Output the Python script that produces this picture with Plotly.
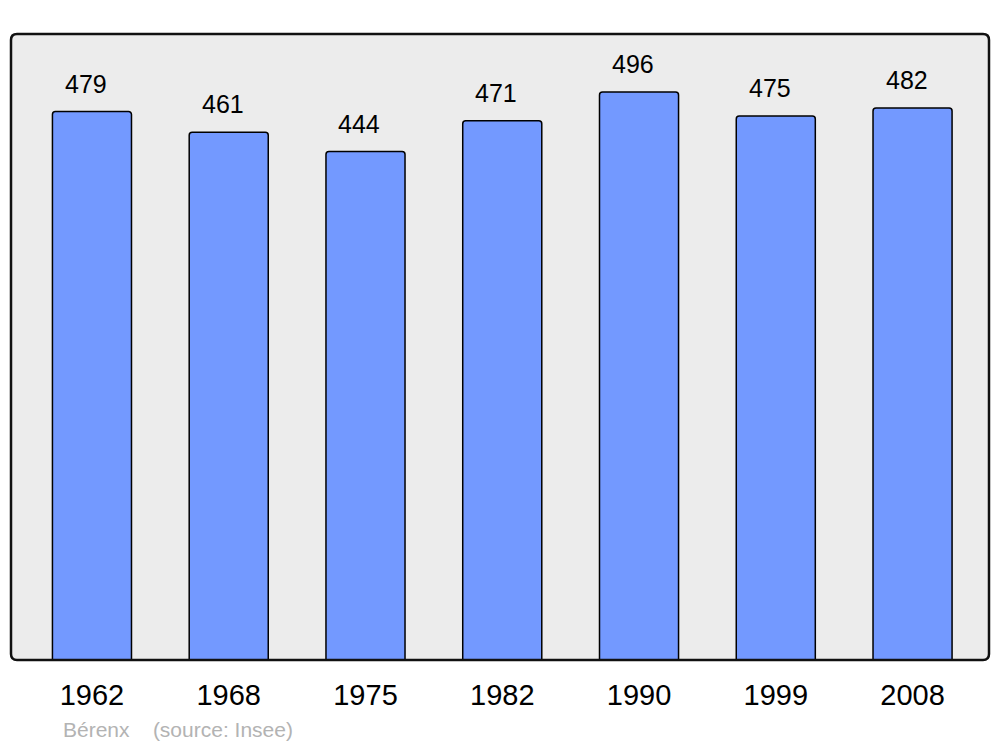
import plotly.graph_objects as go

years = ["1962", "1968", "1975", "1982", "1990", "1999", "2008"]
population = [479, 461, 444, 471, 496, 475, 482]
footer = "Bérenx    (source: Insee)"

xpos = list(range(len(years)))

fig = go.Figure()
fig.add_trace(go.Bar(
    x=xpos, y=population, width=0.578,
    marker=dict(color="#7399ff", line=dict(color="#000000", width=1.5), cornerradius=3),
    hoverinfo="skip",
))

for x, v in zip(xpos, population):
    fig.add_annotation(x=x, y=v, text=str(v), showarrow=False,
                       xshift=-6, yshift=28, yanchor="middle",
                       font=dict(family="Liberation Sans, Arial", size=25, color="#000"))

fig.add_annotation(xref="paper", yref="paper", x=0.0511, y=-0.1118,
                   xanchor="left", yanchor="middle", text=footer, showarrow=False,
                   font=dict(family="Liberation Sans, Arial", size=21, color="#b3b3b3"))

# rounded frame
r = 6
W, H = 978.0, 626.0
rx, ry = r / W, r / H
path = (f"M {rx},0 L {1-rx},0 Q 1,0 1,{ry} L 1,{1-ry} Q 1,1 {1-rx},1 "
        f"L {rx},1 Q 0,1 0,{1-ry} L 0,{ry} Q 0,0 {rx},0 Z")
fig.add_shape(type="path", xref="paper", yref="paper", path=path,
              fillcolor="#ececec", line=dict(width=0), layer="below")
fig.add_shape(type="path", xref="paper", yref="paper", path=path,
              fillcolor="rgba(0,0,0,0)", line=dict(color="#111", width=2.5), layer="above")

# page body has an 8px margin; compensate so the figure lines up with the window
fig.update_layout(
    width=992, height=739,
    margin=dict(l=3, r=11, t=26, b=87, pad=0),
    paper_bgcolor="white", plot_bgcolor="white",
    showlegend=False,
    xaxis=dict(range=[-0.592, 6.559], tickvals=xpos, ticktext=years,
               showgrid=False, zeroline=False, showline=False, ticks="",
               tickfont=dict(family="Liberation Sans, Arial", size=29, color="#000"),
               ticklabelstandoff=15, fixedrange=True),
    yaxis=dict(range=[0, 546.7], showgrid=False, zeroline=False, showline=False,
               showticklabels=False, ticks="", fixedrange=True),
)

fig.write_html("out.html")
